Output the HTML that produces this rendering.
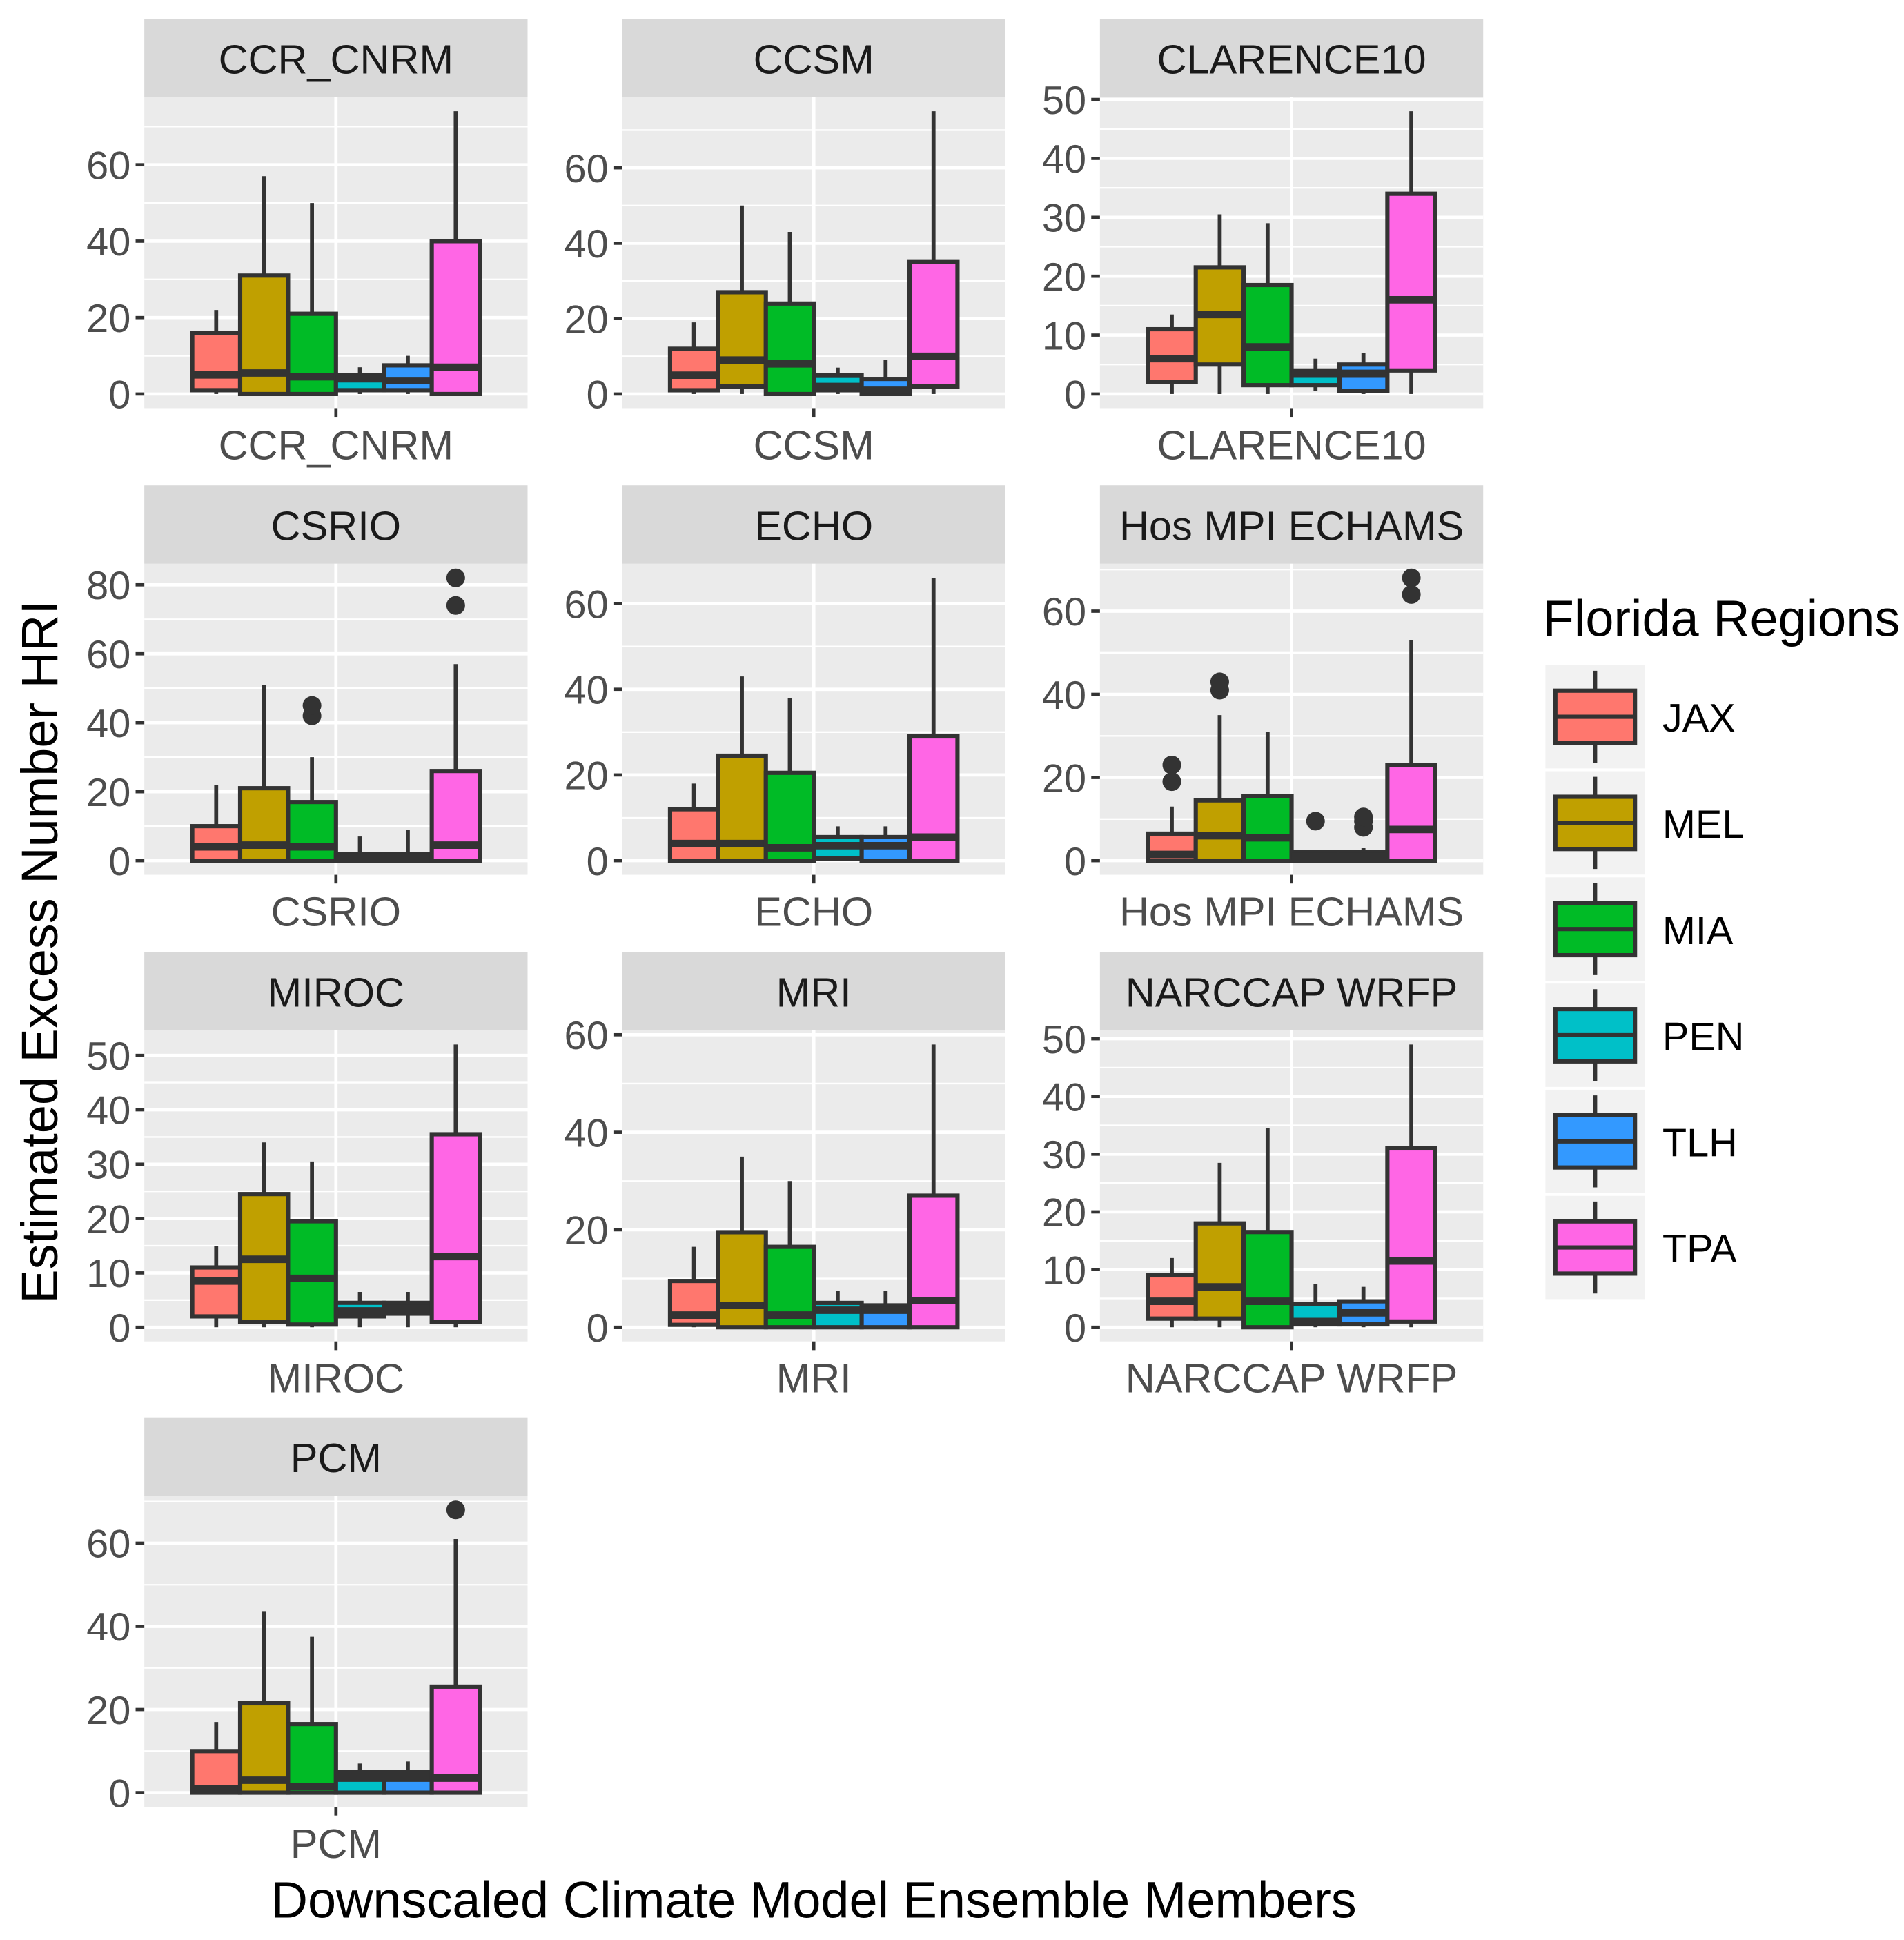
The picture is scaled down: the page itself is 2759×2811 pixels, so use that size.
<!DOCTYPE html>
<html><head><meta charset="utf-8"><style>
html,body{margin:0;padding:0;background:#fff}
svg{display:block}
text{font-family:"Liberation Sans",Arial,sans-serif}
</style></head><body>
<svg id="chart" width="2759" height="2811" viewBox="0 0 1530.2 1559" xmlns="http://www.w3.org/2000/svg">
<rect width="1530.2" height="1559" fill="#fff"/>
<g id="panels"></g>
<g id="legend"></g>
<text transform="translate(46,765) rotate(-90)" text-anchor="middle" font-size="41" fill="#000">Estimated Excess Number HRI</text>
<text x="654" y="1541" text-anchor="middle" font-size="41" fill="#000">Downscaled Climate Model Ensemble Members</text>
</svg>
<script>
// ---- data ----
const models = ["CCR_CNRM","CCSM","CLARENCE10","CSRIO","ECHO","Hos MPI ECHAMS","MIROC","MRI","NARCCAP WRFP","PCM"];
const regions = ["JAX","MEL","MIA","PEN","TLH","TPA"];
const colors = ["#FF776E","#C0A000","#00BB26","#00C0C8","#3399FF","#FF66E5"];
// each: [lowerWhisker, q1, median, q3, upperWhisker] per region
const stats_CCR_CNRM = [[0,1,5,16,22],[0,0,5.5,31,57],[0,0,4.5,21,50],[0,1,4,5,7],[0,1,3.5,7.5,10],[0,0,7,40,74]];
const stats_CCSM = [[0,1,5,12,19],[0,2,9,27,50],[0,0,8,24,43],[0,1,2,5,7],[0,0,1,4,9],[0,2,10,35,75]];
const stats_CLARENCE10 = [[0,2,6,11,13.5],[0,5,13.5,21.5,30.5],[0,1.5,8,18.5,29],[0.5,1.5,3.5,4,6],[0,0.5,3.5,5,7],[0,4,16,34,48]];
const stats_CSRIO = [[0,0,4,10,22],[0,0,4.5,21,51],[0,0,4,17,30],[0,0,1,2,7],[0,0,1,2,9],[0,0,4.5,26,57]];
const stats_ECHO = [[0,0,4,12,18],[0,0,4,24.5,43],[0,0,3,20.5,38],[0,0.5,3.5,5.5,8],[0,0,3.5,5.5,8],[0,0,5.5,29,66]];
const stats_HOS = [[0,0,1.5,6.5,13],[0,0,6,14.5,35],[0,0,5.5,15.5,31],[0,0,1,2,2],[0,0,1,2,3],[0,0,7.5,23,53]];
const stats_MIROC = [[0,2,8.5,11,15],[0,1,12.5,24.5,34],[0,0.5,9,19.5,30.5],[0,2,3,4.5,6.5],[0,2.5,3.5,4.5,6.5],[0,1,13,35.5,52]];
const stats_MRI = [[0,0.5,2.5,9.5,16.5],[0,0,4.5,19.5,35],[0,0,2.5,16.5,30],[0,0,3.5,5,7.5],[0,0,3.5,4.5,7.5],[0,0,5.5,27,58]];
const stats_NARCCAP = [[0,1.5,4.5,9,12],[0,1.5,7,18,28.5],[0,0,4.5,16.5,34.5],[0,0.5,1,4,7.5],[0,0.5,2.5,4.5,7],[0,1,11.5,31,49]];
const stats_PCM = [[0,0,1,10,17],[0,0,3,21.5,43.5],[0,0,1.5,16.5,37.5],[0,0,3.5,5,7],[0,0,3.5,5,7.5],[0,0,3.5,25.5,61]];
const allStats = [stats_CCR_CNRM,stats_CCSM,stats_CLARENCE10,stats_CSRIO,stats_ECHO,stats_HOS,stats_MIROC,stats_MRI,stats_NARCCAP,stats_PCM];
// outliers per model per region
const outliers = [
 [[],[],[],[],[],[]],
 [[],[],[],[],[],[]],
 [[],[],[],[],[],[]],
 [[],[],[42,45],[],[],[74,82]],
 [[],[],[],[],[],[]],
 [[19,23],[41,43],[],[9.5],[8,9.5,10.5],[64,68]],
 [[],[],[],[],[],[]],
 [[],[],[],[],[],[]],
 [[],[],[],[],[],[]],
 [[],[],[],[],[],[68]]
];
const tickSteps = [20,20,10,20,20,20,10,20,10,20];

const NS="http://www.w3.org/2000/svg";
function mk(tag,attrs,parent){const e=document.createElementNS(NS,tag);for(const k in attrs)e.setAttribute(k,attrs[k]);parent.appendChild(e);return e;}
const root=document.getElementById('panels');
const colX=[116,500,884], PW=308, rowY=[15,390,765,1139], SH=63, PH=250;

models.forEach((m,i)=>{
  const cx0=colX[i%3], top=rowY[Math.floor(i/3)];
  const g=mk('g',{},root);
  
  
  const strip=mk('rect',{x:cx0,y:top,width:PW,height:SH,fill:'#D9D9D9'},g);
  
  
  const st=mk('text',{x:cx0+PW/2,y:top+44,'text-anchor':'middle','font-size':33,fill:'#1a1a1a'},g);
  st.textContent=m;
  
  
  const py=top+SH;
  mk('rect',{x:cx0,y:py,width:PW,height:PH,fill:'#EBEBEB'},g);
  const s=allStats[i];
  let lo=Infinity,hi=-Infinity;
  s.forEach((b,j)=>{lo=Math.min(lo,b[0]);hi=Math.max(hi,b[4]);outliers[i][j].forEach(o=>{hi=Math.max(hi,o);lo=Math.min(lo,o);});});
  const r=hi-lo, dmin=lo-0.05*r, dmax=hi+0.05*r;
  const Y=v=>py+PH-(v-dmin)/(dmax-dmin)*PH;
  const step=tickSteps[i];
  for(let t=0;t<=dmax;t+=step/2){
    const major=(Math.round(t/step*2)%2===0);
    mk('line',{x1:cx0,x2:cx0+PW,y1:Y(t),y2:Y(t),stroke:'#fff','stroke-width':major?2.6:1.3},g);
    if(major){
      mk('line',{x1:cx0-7,x2:cx0,y1:Y(t),y2:Y(t),stroke:'#333','stroke-width':2.6},g);
      const tl=mk('text',{x:cx0-11,y:Y(t)+11.5,'text-anchor':'end','font-size':32,fill:'#4d4d4d'},g);
      tl.textContent=t;
      
      
    }
  }
  const cxm=cx0+PW/2;
  mk('line',{x1:cxm,x2:cxm,y1:py,y2:py+PH,stroke:'#fff','stroke-width':2.6},g);
  mk('line',{x1:cxm,x2:cxm,y1:py+PH,y2:py+PH+7,stroke:'#333','stroke-width':2.6},g);
  const xl=mk('text',{x:cxm,y:py+PH+41,'text-anchor':'middle','font-size':33,fill:'#4d4d4d'},g);
  xl.textContent=m;
  
  
  const unit=PW/1.2, bw=0.9*unit/6, start=cxm-0.45*unit;
  s.forEach((b,j)=>{
    const bx=start+j*bw, bc=bx+bw/2;
    const bg=mk('g',{},g);
    
    
    mk('line',{x1:bc,x2:bc,y1:Y(b[4]),y2:Y(b[3]),stroke:'#333','stroke-width':3.2},bg);
    mk('line',{x1:bc,x2:bc,y1:Y(b[1]),y2:Y(b[0]),stroke:'#333','stroke-width':3.2},bg);
    mk('rect',{x:bx,y:Y(b[3]),width:bw,height:Math.max(Y(b[1])-Y(b[3]),0.1),fill:colors[j],stroke:'#333','stroke-width':3.4},bg);
    mk('line',{x1:bx,x2:bx+bw,y1:Y(b[2]),y2:Y(b[2]),stroke:'#333','stroke-width':6},bg);
    outliers[i][j].forEach(o=>{
      const c=mk('circle',{cx:bc,cy:Y(o),r:7.5,fill:'#333'},bg);
      
      
    });
  });
});

const lg=document.getElementById('legend');
const lt=mk('text',{x:1240,y:511,'font-size':41,fill:'#000'},lg);
lt.textContent='Florida Regions';


regions.forEach((rn,j)=>{
  const cy=576+j*85.3;
  const e=mk('g',{},lg);
  
  
  mk('rect',{x:1242,y:cy-41.5,width:80,height:83,fill:'#F2F2F2'},e);
  mk('line',{x1:1282,x2:1282,y1:cy-37,y2:cy+37,stroke:'#333','stroke-width':3.2},e);
  mk('rect',{x:1250,y:cy-21,width:64,height:42,fill:colors[j],stroke:'#333','stroke-width':3.4},e);
  mk('line',{x1:1250,x2:1314,y1:cy,y2:cy,stroke:'#333','stroke-width':3.4},e);
  const t=mk('text',{x:1336,y:cy+12,'font-size':32,fill:'#000'},e);
  t.textContent=rn;
});
</script>
</body></html>
